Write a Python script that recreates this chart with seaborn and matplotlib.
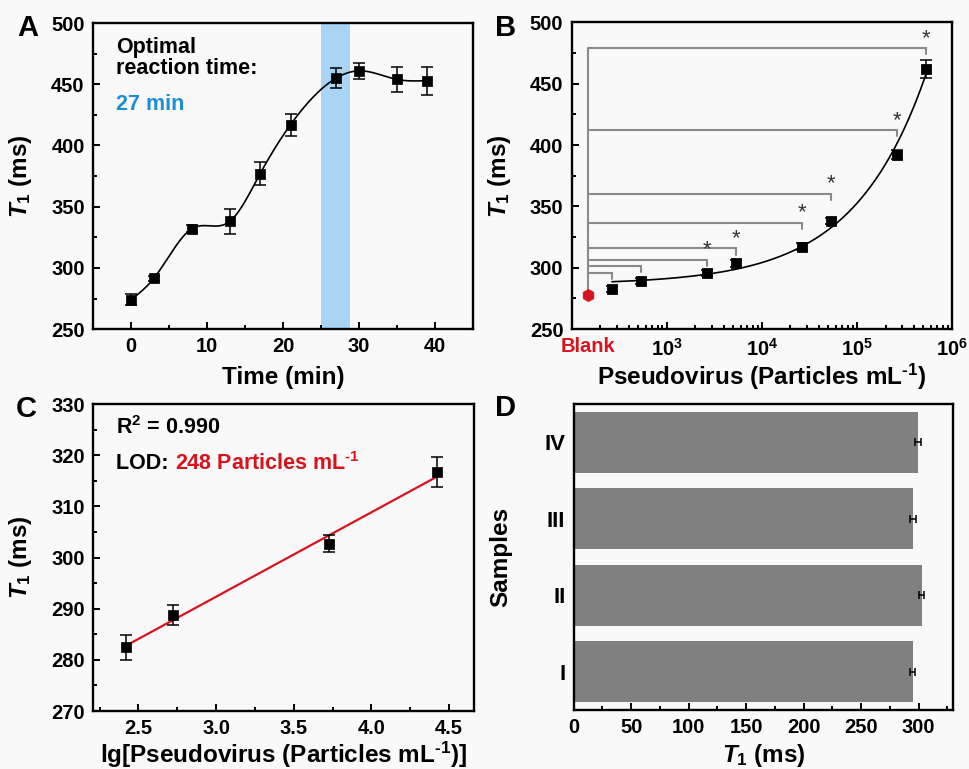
import numpy as np
import pandas as pd
import matplotlib
matplotlib.use("Agg")
import matplotlib.pyplot as plt
from matplotlib.ticker import MultipleLocator, NullFormatter, LogLocator
import seaborn as sns

# ---------------- data ----------------
# Panel A
time_min = [0, 3, 8, 13, 17, 21, 27, 30, 35, 39]
t1_time = [274, 291.5, 332, 338, 377, 417, 455, 461, 454, 453]
t1_time_err = [4.6, 2.0, 3.0, 10.0, 9.5, 9.0, 8.0, 6.5, 10.0, 11.5]
optimal_window = [25.0, 28.8]

# Panel B
conc = [265, 530, 2650, 5300, 26500, 53000, 265000, 530000]
t1_conc = [283, 289.5, 295.5, 303.5, 317.3, 337.8, 392.2, 462]
t1_conc_err = [2.5, 2.5, 2.5, 2.5, 2.5, 2.5, 3.5, 7.0]
blank_t1 = 278
bracket_tops = [296, 301.6, 306.6, 315.8, 336.6, 360.2, 412.1, 479]
bracket_sig = [False, False, True, True, True, True, True, True]

# Panel C
lg_conc = [2.423, 2.724, 3.724, 4.423]
t1_lin = [282.5, 288.8, 302.7, 316.7]
t1_lin_err = [2.45, 2.0, 1.7, 2.9]

# Panel D
samples = ["IV", "III", "II", "I"]
t1_samples = [299.4, 295.4, 302.6, 294.8]
t1_samples_err = [2.5, 2.5, 2.5, 2.5]

# ---------------- style ----------------
sns.set_theme(style="ticks")
plt.rcParams["font.family"] = ["Liberation Sans", "DejaVu Sans"]
plt.rcParams["font.weight"] = "bold"
plt.rcParams["axes.labelweight"] = "bold"
plt.rcParams["mathtext.fontset"] = "custom"
plt.rcParams["mathtext.rm"] = "Liberation Sans:bold"
plt.rcParams["mathtext.bf"] = "Liberation Sans:bold"
plt.rcParams["mathtext.it"] = "Liberation Sans:italic:bold"
for k in ["text.color", "axes.labelcolor", "xtick.color", "ytick.color",
          "axes.edgecolor"]:
    plt.rcParams[k] = "black"

RED = "#d7141e"
BLUE = "#1f8dd6"
BAND = "#a9d4f4"
GRAY = "#8a8a8a"
BG = "#f9f9f9"
TICK_FS = 14.5
LABEL_FS = 17.5
NOTE_FS = 15.5
SUPM1 = "$^{\\text{-1}}$"

fig = plt.figure(figsize=(9.69, 7.69), dpi=100)
fig.patch.set_facecolor(BG)


def style_axes(ax):
    ax.set_facecolor(BG)
    for s in ax.spines.values():
        s.set_visible(True)
        s.set_linewidth(1.7)
        s.set_color("black")
    ax.tick_params(which="both", direction="in", top=False, right=False,
                   colors="black", width=1.4, labelsize=TICK_FS, pad=6)
    ax.tick_params(which="major", length=5)
    ax.tick_params(which="minor", length=3)
    for lab in ax.get_xticklabels() + ax.get_yticklabels():
        lab.set_fontweight("bold")


def natural_spline(x, y, xs):
    x = np.asarray(x, float)
    y = np.asarray(y, float)
    n = len(x)
    h = np.diff(x)
    A = np.zeros((n, n))
    r = np.zeros(n)
    A[0, 0] = 1
    A[-1, -1] = 1
    for i in range(1, n - 1):
        A[i, i - 1] = h[i - 1]
        A[i, i] = 2 * (h[i - 1] + h[i])
        A[i, i + 1] = h[i]
        r[i] = 3 * ((y[i + 1] - y[i]) / h[i] - (y[i] - y[i - 1]) / h[i - 1])
    c = np.linalg.solve(A, r)
    b = (y[1:] - y[:-1]) / h - h * (2 * c[:-1] + c[1:]) / 3
    d = (c[1:] - c[:-1]) / (3 * h)
    idx = np.clip(np.searchsorted(x, xs) - 1, 0, n - 2)
    dx = xs - x[idx]
    return y[idx] + b[idx] * dx + c[idx] * dx ** 2 + d[idx] * dx ** 3


def exp_fit(L, y):
    """Least-squares fit y = a + b*exp(c*L), grid search on c."""
    L = np.asarray(L, float)
    y = np.asarray(y, float)
    best = None
    for c in np.linspace(0.2, 4.0, 381):
        M = np.column_stack([np.ones_like(L), np.exp(c * L)])
        sol, *_ = np.linalg.lstsq(M, y, rcond=None)
        sse = np.sum((M @ sol - y) ** 2)
        if best is None or sse < best[0]:
            best = (sse, c, sol)
    _, c, (a, b) = best
    return lambda t: a + b * np.exp(c * t)


# ---------------- Panel A ----------------
axA = fig.add_axes([0.096, 0.572, 0.392, 0.398])
axA.axvspan(optimal_window[0], optimal_window[1], color=BAND, lw=0, zorder=0)
xs = np.linspace(min(time_min), max(time_min), 400)
sns.lineplot(x=xs, y=natural_spline(time_min, t1_time, xs), ax=axA,
             color="black", lw=1.2, zorder=2)
axA.errorbar(time_min, t1_time, yerr=t1_time_err, fmt="none", ecolor="black",
             elinewidth=1.1, capsize=4, capthick=1.1, zorder=3)
sns.scatterplot(x=time_min, y=t1_time, ax=axA, marker="s", s=42, color="black",
                edgecolor="black", zorder=4)
axA.set_xlim(-5, 45)
axA.set_ylim(250, 500)
axA.xaxis.set_major_locator(MultipleLocator(10))
axA.xaxis.set_minor_locator(MultipleLocator(5))
axA.yaxis.set_major_locator(MultipleLocator(50))
axA.yaxis.set_minor_locator(MultipleLocator(25))
axA.set_xlabel("Time (min)", fontsize=LABEL_FS)
axA.set_ylabel("$T_1$ (ms)", fontsize=LABEL_FS)
axA.xaxis.set_label_coords(0.5, -0.12)
axA.yaxis.set_label_coords(-0.155, 0.5)
axA.text(0.06, 0.955, "Optimal\nreaction time:", transform=axA.transAxes,
         fontsize=NOTE_FS, fontweight="bold", va="top", ha="left",
         linespacing=1.0)
axA.text(0.06, 0.735, "27 min", transform=axA.transAxes, color=BLUE,
         fontsize=NOTE_FS, fontweight="bold", va="center", ha="left")
style_axes(axA)

# ---------------- Panel B ----------------
axB = fig.add_axes([0.590, 0.572, 0.3925, 0.399])
axB.set_xscale("log")
blank_x = 147
lx = np.log10(conc)
fitB = exp_fit(lx, t1_conc)
xs = np.linspace(lx.min(), lx.max(), 400)
sns.lineplot(x=10 ** xs, y=fitB(xs), ax=axB, color="black", lw=1.2, zorder=2)
# significance brackets
axB.plot([blank_x, blank_x], [blank_t1, max(bracket_tops)], color=GRAY,
         lw=1.5, zorder=1, solid_capstyle="butt")
for cx, top, sig in zip(conc, bracket_tops, bracket_sig):
    axB.plot([blank_x, cx, cx], [top, top, top - 5], color=GRAY, lw=1.5,
             zorder=1, solid_joinstyle="miter")
    if sig:
        axB.text(cx, top - 0.5, "*", ha="center", va="bottom", fontsize=16,
                 fontweight="normal", color="#333333")
axB.errorbar(conc, t1_conc, yerr=t1_conc_err, fmt="none", ecolor="black",
             elinewidth=1.1, capsize=4, capthick=1.1, zorder=3)
sns.scatterplot(x=conc, y=t1_conc, ax=axB, marker="s", s=52, color="black",
                edgecolor="black", zorder=4)
sns.scatterplot(x=[blank_x], y=[blank_t1], ax=axB, marker="h", s=75,
                color=RED, edgecolor=RED, zorder=4)
axB.set_xlim(100, 1e6)
axB.set_ylim(250, 500)
axB.set_xticks([blank_x, 1e3, 1e4, 1e5, 1e6])
axB.set_xticklabels(["Blank", "$10^{3}$", "$10^{4}$", "$10^{5}$", "$10^{6}$"])
axB.xaxis.set_minor_locator(LogLocator(base=10, subs=np.arange(2, 10)))
axB.xaxis.set_minor_formatter(NullFormatter())
axB.yaxis.set_major_locator(MultipleLocator(50))
axB.yaxis.set_minor_locator(MultipleLocator(25))
axB.set_xlabel("Pseudovirus (Particles mL" + SUPM1 + ")", fontsize=LABEL_FS)
axB.set_ylabel("$T_1$ (ms)", fontsize=LABEL_FS)
axB.xaxis.set_label_coords(0.5, -0.108)
axB.yaxis.set_label_coords(-0.155, 0.5)
style_axes(axB)
axB.xaxis.get_major_ticks()[0].tick1line.set_visible(False)
axB.get_xticklabels()[0].set_color(RED)

# ---------------- Panel C ----------------
axC = fig.add_axes([0.0963, 0.0754, 0.3928, 0.3992])
sns.regplot(x=lg_conc, y=t1_lin, ax=axC, ci=None, scatter=False,
            line_kws=dict(color=RED, lw=1.6, zorder=2))
axC.errorbar(lg_conc, t1_lin, yerr=t1_lin_err, fmt="none", ecolor="black",
             elinewidth=1.1, capsize=4, capthick=1.1, zorder=3)
sns.scatterplot(x=lg_conc, y=t1_lin, ax=axC, marker="s", s=42, color="black",
                edgecolor="black", zorder=4)
axC.set_xlim(2.21, 4.66)
axC.set_ylim(270, 330)
axC.xaxis.set_major_locator(MultipleLocator(0.5))
axC.xaxis.set_minor_locator(MultipleLocator(0.25))
axC.yaxis.set_major_locator(MultipleLocator(10))
axC.yaxis.set_minor_locator(MultipleLocator(5))
axC.set_xlabel("lg[Pseudovirus (Particles mL" + SUPM1 + ")]", fontsize=LABEL_FS)
axC.set_ylabel("$T_1$ (ms)", fontsize=LABEL_FS)
axC.xaxis.set_label_coords(0.5, -0.094)
axC.yaxis.set_label_coords(-0.155, 0.5)
axC.text(0.06, 0.922, "R$^{2}$ = 0.990", transform=axC.transAxes,
         fontsize=NOTE_FS, fontweight="bold", va="center", ha="left")
t_lod = axC.text(0.06, 0.805, "LOD: ", transform=axC.transAxes,
                 fontsize=NOTE_FS, fontweight="bold", va="center", ha="left")
axC.annotate("248 Particles mL" + SUPM1, xy=(1, 0.5), xycoords=t_lod,
             va="center", ha="left", fontsize=NOTE_FS, fontweight="bold",
             color=RED)
style_axes(axC)

# ---------------- Panel D ----------------
axD = fig.add_axes([0.592, 0.0767, 0.3915, 0.3979])
dfD = pd.DataFrame({"sample": samples, "t1": t1_samples})
sns.barplot(data=dfD, x="t1", y="sample", order=samples, orient="h",
            color="#808080", saturation=1, width=0.8, ax=axD, zorder=1,
            errorbar=None, edgecolor="none")
axD.errorbar(t1_samples, np.arange(len(samples)), xerr=t1_samples_err,
             fmt="none", ecolor="black", elinewidth=1.1, capsize=3,
             capthick=1.1, zorder=3)
axD.set_xlim(0, 330)
axD.set_ylim(3.5, -0.5)
axD.xaxis.set_major_locator(MultipleLocator(50))
axD.xaxis.set_minor_locator(MultipleLocator(25))
axD.set_xlabel("$T_1$ (ms)", fontsize=LABEL_FS)
axD.set_ylabel("Samples", fontsize=LABEL_FS)
axD.xaxis.set_label_coords(0.5, -0.105)
axD.yaxis.set_label_coords(-0.163, 0.5)
style_axes(axD)
axD.tick_params(axis="y", which="minor", left=False)
axD.tick_params(axis="y", labelsize=16)

# ---------------- panel letters ----------------
for letter, (x, y) in zip("ABCD", [(0.0175, 0.963), (0.511, 0.964),
                                   (0.0165, 0.468), (0.511, 0.469)]):
    fig.text(x, y, letter, fontsize=21, fontweight="bold", ha="left",
             va="center")

fig.savefig("out.png", dpi=100, facecolor=fig.get_facecolor())
